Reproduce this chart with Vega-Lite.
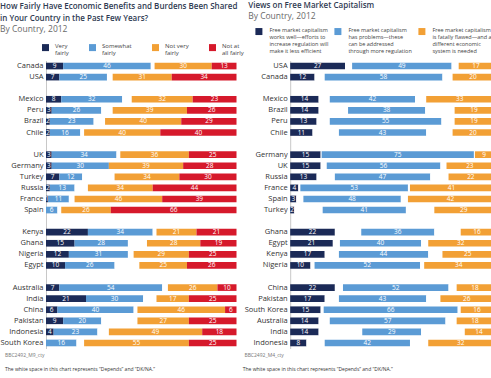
{
  "$schema": "https://vega.github.io/schema/vega-lite/v6.json",
  "background": "white",
  "padding": {"left": 0, "top": 1.5, "right": 0, "bottom": 0},
  "spacing": 53.2,
  "bounds": "flush",
  "config": {
    "font": "Open Sans",
    "view": {"stroke": null},
    "style": {"guide-label": {"lineHeight": 7.3}},
    "axisY": {"labelFontSize": 7.5, "labelColor": "#333333", "ticks": false, "domain": true, "domainColor": "#c8c8c8", "labelPadding": 3, "title": null, "labelExpr": "indexof(datum.label, '_') == 0 ? '' : datum.label"},
    "legend": {"padding": 0, "titlePadding": 0}
  },
  "resolve": {"scale": {"color": "independent"}, "legend": {"color": "independent"}},
  "hconcat": [
    {
      "width": 190.5,
      "height": 288,
      "title": {"text": ["How Fairly Have Economic Benefits and Burdens Been Shared", "in Your Country in the Past Few Years?"], "subtitle": "By Country, 2012", "anchor": "start", "fontSize": 8, "fontWeight": 600, "color": "#2f3b52", "lineHeight": 12, "subtitleFontSize": 8.5, "subtitleColor": "#6a6a6a", "subtitlePadding": 2, "offset": 10.5},
      "data": {"values": [
        {"country": "Canada", "a_very": 9, "b_somewhat": 46, "c_dk": 2, "d_notvery": 30, "e_notatall": 13},
        {"country": "USA", "a_very": 7, "b_somewhat": 25, "c_dk": 3, "d_notvery": 31, "e_notatall": 34},
        {"country": "Mexico", "a_very": 8, "b_somewhat": 32, "c_dk": 5, "d_notvery": 32, "e_notatall": 23},
        {"country": "Peru", "a_very": 3, "b_somewhat": 26, "c_dk": 6, "d_notvery": 39, "e_notatall": 26},
        {"country": "Brazil", "a_very": 2, "b_somewhat": 23, "c_dk": 6, "d_notvery": 40, "e_notatall": 29},
        {"country": "Chile", "a_very": 2, "b_somewhat": 16, "c_dk": 2, "d_notvery": 40, "e_notatall": 40},
        {"country": "UK", "a_very": 3, "b_somewhat": 34, "c_dk": 2, "d_notvery": 36, "e_notatall": 25},
        {"country": "Germany", "a_very": 3, "b_somewhat": 30, "c_dk": 0, "d_notvery": 39, "e_notatall": 28},
        {"country": "Turkey", "a_very": 7, "b_somewhat": 12, "c_dk": 17, "d_notvery": 34, "e_notatall": 30},
        {"country": "Russia", "a_very": 2, "b_somewhat": 13, "c_dk": 7, "d_notvery": 34, "e_notatall": 44},
        {"country": "France", "a_very": 1, "b_somewhat": 11, "c_dk": 3, "d_notvery": 46, "e_notatall": 39},
        {"country": "Spain", "a_very": 0, "b_somewhat": 6, "c_dk": 2, "d_notvery": 26, "e_notatall": 66},
        {"country": "Kenya", "a_very": 22, "b_somewhat": 34, "c_dk": 2, "d_notvery": 21, "e_notatall": 21},
        {"country": "Ghana", "a_very": 15, "b_somewhat": 28, "c_dk": 10, "d_notvery": 28, "e_notatall": 19},
        {"country": "Nigeria", "a_very": 12, "b_somewhat": 31, "c_dk": 3, "d_notvery": 29, "e_notatall": 25},
        {"country": "Egypt", "a_very": 10, "b_somewhat": 26, "c_dk": 13, "d_notvery": 25, "e_notatall": 26},
        {"country": "Australia", "a_very": 7, "b_somewhat": 54, "c_dk": 3, "d_notvery": 26, "e_notatall": 10},
        {"country": "India", "a_very": 21, "b_somewhat": 30, "c_dk": 7, "d_notvery": 17, "e_notatall": 25},
        {"country": "China", "a_very": 6, "b_somewhat": 40, "c_dk": 2, "d_notvery": 46, "e_notatall": 6},
        {"country": "Pakistan", "a_very": 9, "b_somewhat": 20, "c_dk": 19, "d_notvery": 27, "e_notatall": 25},
        {"country": "Indonesia", "a_very": 4, "b_somewhat": 23, "c_dk": 6, "d_notvery": 49, "e_notatall": 18},
        {"country": "South Korea", "a_very": 0, "b_somewhat": 16, "c_dk": 4, "d_notvery": 55, "e_notatall": 25}
      ]},
      "transform": [{"fold": ["a_very", "b_somewhat", "c_dk", "d_notvery", "e_notatall"], "as": ["cat", "value"]}],
      "encoding": {
        "y": {"field": "country", "type": "nominal", "title": null, "scale": {"domain": ["Canada", "USA", "_1", "Mexico", "Peru", "Brazil", "Chile", "_2", "UK", "Germany", "Turkey", "Russia", "France", "Spain", "_3", "Kenya", "Ghana", "Nigeria", "Egypt", "_4", "Australia", "India", "China", "Pakistan", "Indonesia", "South Korea"], "paddingInner": 0.4, "paddingOuter": 0.2}},
        "order": {"field": "cat", "sort": "ascending"}
      },
      "layer": [
        {
          "mark": {"type": "bar"},
          "encoding": {
            "x": {"field": "value", "type": "quantitative", "stack": "zero", "scale": {"domain": [0, 100], "nice": false}, "axis": {"orient": "bottom", "labels": false, "ticks": false, "domain": false, "grid": false, "title": "BBC2492_M9_cty", "titleFontSize": 5, "titleFontWeight": "normal", "titleColor": "#777777", "titleAnchor": "start", "titleAlign": "left", "titleX": -41.5, "titlePadding": 3.5}},
            "color": {"field": "cat", "type": "nominal", "scale": {"domain": ["a_very", "b_somewhat", "c_dk", "d_notvery", "e_notatall"], "range": ["#1b2a57", "#5b9bd5", "#ffffff", "#f2a035", "#d6192b"]}, "legend": {"orient": "none", "legendX": -4, "legendY": -16.5, "direction": "horizontal", "columns": 4, "columnPadding": 20, "title": null, "values": ["a_very", "b_somewhat", "d_notvery", "e_notatall"], "symbolType": "square", "symbolSize": 49, "symbolStrokeWidth": 0, "symbolOpacity": 1, "labelFontSize": 6, "labelColor": "#444444", "labelBaseline": "alphabetic", "labelOffset": 6, "labelExpr": "datum.label == 'a_very' ? ['Very','fairly'] : datum.label == 'b_somewhat' ? ['Somewhat','fairly'] : datum.label == 'd_notvery' ? ['Not very','fairly'] : ['Not at','all fairly']"}}
          }
        },
        {
          "mark": {"type": "text", "color": "white", "fontSize": 6.5, "baseline": "middle"},
          "encoding": {
            "x": {"field": "value", "type": "quantitative", "stack": "zero", "bandPosition": 0.5, "axis": {"orient": "bottom", "labels": false, "ticks": false, "domain": false, "grid": false, "title": "The white space in this chart represents \u201cDepends\u201d and \u201cDK/NA.\u201d", "titleFontSize": 5, "titleFontWeight": "normal", "titleColor": "#333333", "titleAnchor": "start", "titleAlign": "left", "titleX": -41.5, "titlePadding": 4, "offset": 14}},
            "text": {"condition": {"test": "datum.cat == 'c_dk' || datum.value == 0", "value": ""}, "field": "value", "type": "quantitative"}
          }
        }
      ],
      "resolve": {"axis": {"x": "independent"}}
    },
    {
      "width": 203,
      "height": 288,
      "title": {"text": "Views on Free Market Capitalism", "subtitle": "By Country, 2012", "anchor": "start", "dx": 6, "fontSize": 8, "fontWeight": 600, "color": "#2f3b52", "lineHeight": 11, "subtitleFontSize": 8.5, "subtitleColor": "#6a6a6a", "subtitlePadding": 2.5, "offset": 7.5},
      "data": {"values": [
        {"country": "USA", "a_works": 27, "b_dk": 3.5, "c_problems": 49, "d_dk": 3.5, "e_flawed": 17},
        {"country": "Canada", "a_works": 12, "b_dk": 5, "c_problems": 58, "d_dk": 5, "e_flawed": 20},
        {"country": "Mexico", "a_works": 14, "b_dk": 5.5, "c_problems": 42, "d_dk": 5.5, "e_flawed": 33},
        {"country": "Brazil", "a_works": 14, "b_dk": 14.5, "c_problems": 38, "d_dk": 14.5, "e_flawed": 19},
        {"country": "Peru", "a_works": 13, "b_dk": 6.5, "c_problems": 55, "d_dk": 6.5, "e_flawed": 19},
        {"country": "Chile", "a_works": 11, "b_dk": 13, "c_problems": 43, "d_dk": 13, "e_flawed": 20},
        {"country": "Germany", "a_works": 15, "b_dk": 0.5, "c_problems": 75, "d_dk": 0.5, "e_flawed": 9},
        {"country": "UK", "a_works": 15, "b_dk": 3, "c_problems": 56, "d_dk": 3, "e_flawed": 23},
        {"country": "Russia", "a_works": 13, "b_dk": 9, "c_problems": 47, "d_dk": 9, "e_flawed": 22},
        {"country": "France", "a_works": 4, "b_dk": 1, "c_problems": 53, "d_dk": 1, "e_flawed": 41},
        {"country": "Spain", "a_works": 3, "b_dk": 3.5, "c_problems": 48, "d_dk": 3.5, "e_flawed": 42},
        {"country": "Turkey", "a_works": 2, "b_dk": 14, "c_problems": 41, "d_dk": 14, "e_flawed": 29},
        {"country": "Ghana", "a_works": 22, "b_dk": 13, "c_problems": 36, "d_dk": 13, "e_flawed": 16},
        {"country": "Egypt", "a_works": 21, "b_dk": 3.5, "c_problems": 40, "d_dk": 3.5, "e_flawed": 32},
        {"country": "Kenya", "a_works": 17, "b_dk": 7, "c_problems": 44, "d_dk": 7, "e_flawed": 25},
        {"country": "Nigeria", "a_works": 10, "b_dk": 2, "c_problems": 52, "d_dk": 2, "e_flawed": 34},
        {"country": "China", "a_works": 22, "b_dk": 4, "c_problems": 52, "d_dk": 4, "e_flawed": 18},
        {"country": "Pakistan", "a_works": 17, "b_dk": 7, "c_problems": 43, "d_dk": 7, "e_flawed": 26},
        {"country": "South Korea", "a_works": 15, "b_dk": 1.5, "c_problems": 66, "d_dk": 1.5, "e_flawed": 16},
        {"country": "Australia", "a_works": 14, "b_dk": 5.5, "c_problems": 57, "d_dk": 5.5, "e_flawed": 18},
        {"country": "India", "a_works": 14, "b_dk": 21.5, "c_problems": 29, "d_dk": 21.5, "e_flawed": 14},
        {"country": "Indonesia", "a_works": 8, "b_dk": 9, "c_problems": 42, "d_dk": 9, "e_flawed": 32}
      ]},
      "transform": [{"fold": ["a_works", "b_dk", "c_problems", "d_dk", "e_flawed"], "as": ["cat", "value"]}],
      "encoding": {
        "y": {"field": "country", "type": "nominal", "title": null, "scale": {"domain": ["USA", "Canada", "_1", "Mexico", "Brazil", "Peru", "Chile", "_2", "Germany", "UK", "Russia", "France", "Spain", "Turkey", "_3", "Ghana", "Egypt", "Kenya", "Nigeria", "_4", "China", "Pakistan", "South Korea", "Australia", "India", "Indonesia"], "paddingInner": 0.4, "paddingOuter": 0.2}},
        "order": {"field": "cat", "sort": "ascending"}
      },
      "layer": [
        {
          "mark": {"type": "bar"},
          "encoding": {
            "x": {"field": "value", "type": "quantitative", "stack": "zero", "scale": {"domain": [0, 100], "nice": false}, "axis": {"orient": "bottom", "labels": false, "ticks": false, "domain": false, "grid": false, "title": "BBC2492_M4_cty", "titleFontSize": 5, "titleFontWeight": "normal", "titleColor": "#777777", "titleAnchor": "start", "titleAlign": "left", "titleX": -46.3, "titlePadding": 3.5}},
            "color": {"field": "cat", "type": "nominal", "scale": {"domain": ["a_works", "b_dk", "c_problems", "d_dk", "e_flawed"], "range": ["#1b2a57", "#ffffff", "#5b9bd5", "#ffffff", "#f2a035"]}, "legend": {"orient": "none", "legendX": -34.8, "legendY": -32.5, "direction": "horizontal", "columns": 3, "columnPadding": 6, "title": null, "values": ["a_works", "c_problems", "e_flawed"], "symbolType": "square", "symbolSize": 49, "symbolStrokeWidth": 0, "symbolOpacity": 1, "labelFontSize": 5.5, "labelColor": "#444444", "labelBaseline": "alphabetic", "labelOffset": 7, "labelLimit": 100, "labelExpr": "datum.label == 'a_works' ? ['Free market capitalism','works well\u2014efforts to','increase regulation will','make it less efficient'] : datum.label == 'c_problems' ? ['Free market capitalism','has problems\u2014these','can be addressed','through more regulation'] : ['Free market capitalism','is fatally flawed\u2014and a','different economic','system is needed']"}}
          }
        },
        {
          "mark": {"type": "text", "color": "white", "fontSize": 6.5, "baseline": "middle"},
          "encoding": {
            "x": {"field": "value", "type": "quantitative", "stack": "zero", "bandPosition": 0.5, "axis": {"orient": "bottom", "labels": false, "ticks": false, "domain": false, "grid": false, "title": "The white space in this chart represents \u201cDepends\u201d and \u201cDK/NA.\u201d", "titleFontSize": 5, "titleFontWeight": "normal", "titleColor": "#333333", "titleAnchor": "start", "titleAlign": "left", "titleX": -48, "titlePadding": 4, "offset": 14}},
            "text": {"condition": {"test": "datum.cat == 'b_dk' || datum.cat == 'd_dk' || datum.value == 0", "value": ""}, "field": "value", "type": "quantitative"}
          }
        }
      ],
      "resolve": {"axis": {"x": "independent"}}
    }
  ]
}
